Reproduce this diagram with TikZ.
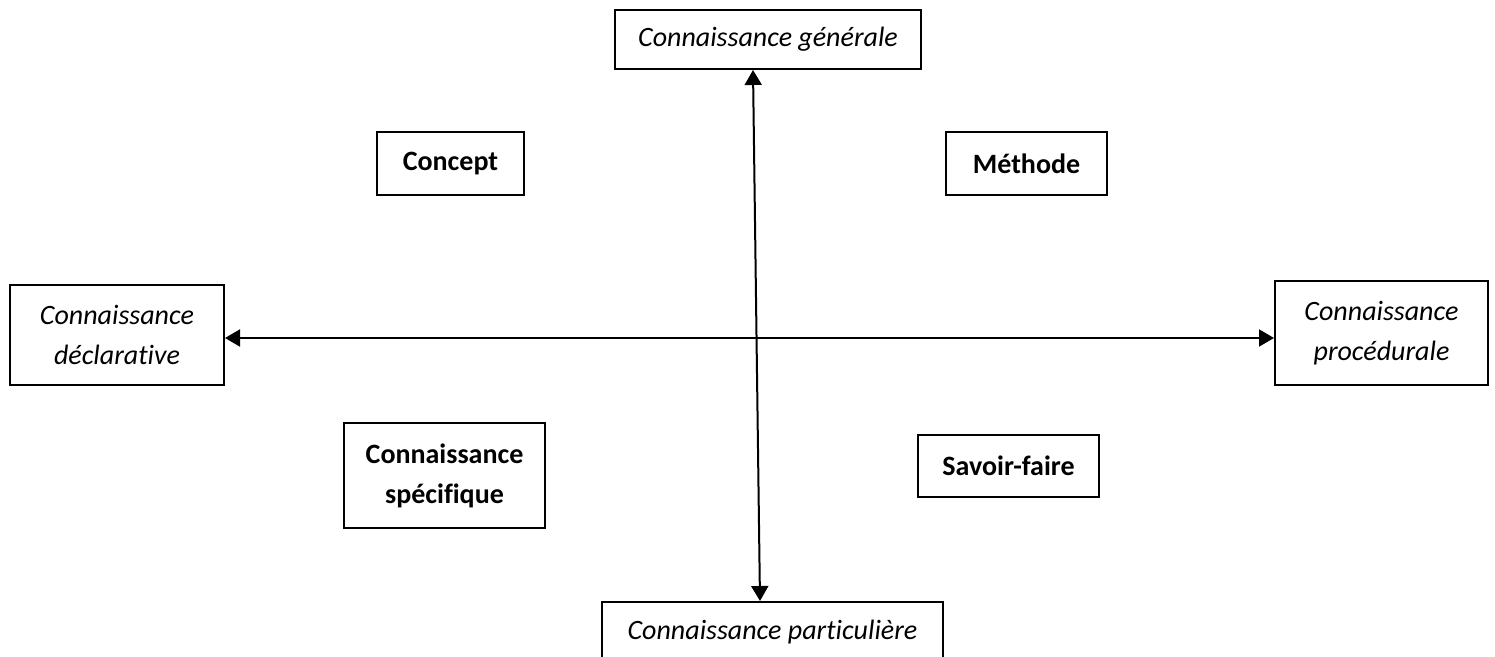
\documentclass[tikz,border=0pt]{standalone}
\usepackage{fontspec}
\setmainfont{Carlito}[RawFeature={-liga;-calt;-clig}]
\usepackage{tikz}
\usetikzlibrary{arrows.meta, positioning}
\tikzstyle{axisbox} = [rectangle, draw=black, line width=1pt, align=center, text centered, font=\fontsize{14}{20}\selectfont\itshape]
\tikzstyle{kindbox} = [rectangle, draw=black, line width=1pt, align=center, text centered, font=\fontsize{14}{20}\selectfont\bfseries]
\tikzstyle{arrow} = [line width=1pt, {Triangle[length=7.5pt,width=8.5pt]}-{Triangle[length=7.5pt,width=8.5pt]}]

\begin{document}
\begin{tikzpicture}[x=0.5pt, y=-0.5pt]
\useasboundingbox (0,0) rectangle (1495,657);

% axes ends
\node (general) [axisbox, minimum width=153pt, minimum height=29.5pt] at (768,39.5) {Connaissance générale};
\node (part) [axisbox, minimum width=170.5pt, minimum height=30pt] at (772.5,632) {Connaissance particulière};
\node (decl) [axisbox, minimum width=107pt, minimum height=50pt] at (117,335) {Connaissance\\déclarat\kern0pt ive};
\node (proc) [axisbox, minimum width=106.5pt, minimum height=52pt] at (1381.5,333) {Connaissance\\procédurale};

% quadrants
\node (concept) [kindbox, minimum width=73.5pt, minimum height=31.5pt] at (450.5,163.5) {Concept};
\node (methode) [kindbox, minimum width=80.5pt, minimum height=31.5pt] at (1026.5,163.5) {Méthode};
\node (specifique) [kindbox, minimum width=100.5pt, minimum height=52.5pt] at (444.5,475.5) {Connaissance\\spécifique};
\node (savoir) [kindbox, minimum width=90.5pt, minimum height=31pt] at (1008.5,466) {Savoir-faire};

\draw [arrow] ([xshift=-7.5pt]general.south) -- ([xshift=-6.25pt]part.north);
\draw [arrow] ([yshift=-1.5pt]decl.east) -- ([yshift=-1.5pt]decl.east -| proc.west);
\end{tikzpicture}
\end{document}
